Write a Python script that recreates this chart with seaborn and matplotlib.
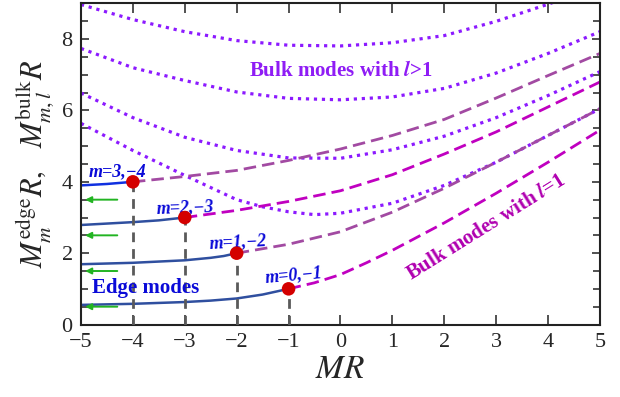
import numpy as np
import pandas as pd
import matplotlib
matplotlib.use("Agg")
import matplotlib.pyplot as plt
import seaborn as sns
from matplotlib.ticker import MultipleLocator

sns.set_theme(style="ticks")
plt.rcParams['font.family'] = ['Liberation Serif', 'DejaVu Serif']
plt.rcParams['mathtext.fontset'] = 'stix'

# ---------------- data ----------------
x_int = [-5, -4, -3, -2, -1, 0, 1, 2, 3, 4, 5]
bulk_hi_1 = [8.97, 8.55, 8.21, 7.96, 7.83, 7.81, 7.9, 8.1, 8.5, 8.98, 9.5]
bulk_hi_2 = [7.74, 7.2, 6.84, 6.52, 6.34, 6.3, 6.38, 6.62, 7.05, 7.6, 8.21]
bulk_hi_3 = [6.49, 5.8, 5.25, 4.88, 4.67, 4.66, 4.9, 5.28, 5.8, 6.42, 7.09]
bulk_hi_4_x = [-5, -4, -3, -2, -1.5, -1, -0.5, 0, 1, 2, 3, 4, 5]
bulk_hi_4 = [5.64, 4.88, 4.18, 3.5, 3.3, 3.16, 3.08, 3.12, 3.4, 3.9, 4.55, 5.3, 6.05]

bulk_l1_m0_x = [-1, -0.5, 0, 0.5, 1, 2, 3, 4, 5]
bulk_l1_m0 = [1.0, 1.17, 1.4, 1.73, 2.08, 2.85, 3.68, 4.55, 5.45]
bulk_l1_m1_x = [-2, -1, 0, 1, 2, 3, 4, 5]
bulk_l1_m1 = [2.0, 2.25, 2.6, 3.15, 3.82, 4.55, 5.3, 6.05]
bulk_l1_m2_x = [-3, -2, -1, 0, 1, 2, 3, 4, 5]
bulk_l1_m2 = [3.0, 3.2, 3.45, 3.75, 4.2, 4.78, 5.4, 6.1, 6.8]
bulk_l1_m3_x = [-4, -3, -2, -1, 0, 1, 2, 3, 4, 5]
bulk_l1_m3 = [4.0, 4.15, 4.32, 4.6, 4.92, 5.3, 5.75, 6.35, 6.98, 7.6]

edge_m0_x = [-5, -4, -3, -2.5, -2, -1.5, -1]
edge_m0 = [0.55, 0.58, 0.63, 0.67, 0.73, 0.84, 1.0]
edge_m1_x = [-5, -4, -3, -2.5, -2.25, -2]
edge_m1 = [1.69, 1.73, 1.8, 1.87, 1.92, 2.0]
edge_m2_x = [-5, -4, -3.5, -3]
edge_m2 = [2.79, 2.87, 2.92, 3.0]
edge_m3_x = [-5, -4.5, -4]
edge_m3 = [3.9, 3.94, 4.0]

dot_x = [-1, -2, -3, -4]
dot_y = [1, 2, 3, 4]
arrow_y = [0.5, 1.5, 2.5, 3.5]
m_labels = ["m=0,\u22121", "m=1,\u22122", "m=2,\u22123", "m=3,\u22124"]

x_ticks = [-5, -4, -3, -2, -1, 0, 1, 2, 3, 4, 5]
y_ticks = [0, 2, 4, 6, 8]

# ---------------- styles ----------------
c_dot = "#8c1aff"
c_mag = "#c000c0"
c_mut = "#a24aa2"
c_edge = "#2f4f9f"
c_edge3 = "#1030e0"
c_txt_blue = "#0a0ad8"

fig = plt.figure(figsize=(6.2, 3.97), dpi=100)
ax = fig.add_axes([0.1306, 0.1826, 0.9677 - 0.1306, 0.9912 - 0.1826])

dotted = (0, (1.0, 1.5))
dashed = (0, (4.5, 2.2))

for xs, ys in [(x_int, bulk_hi_1), (x_int, bulk_hi_2), (x_int, bulk_hi_3),
               (bulk_hi_4_x, bulk_hi_4)]:
    sns.lineplot(x=xs, y=ys, ax=ax, color=c_dot, lw=2.3, linestyle=dotted,
                 estimator=None, sort=False)

for xs, ys, c in [(bulk_l1_m0_x, bulk_l1_m0, c_mag), (bulk_l1_m1_x, bulk_l1_m1, c_mut),
                  (bulk_l1_m2_x, bulk_l1_m2, c_mag), (bulk_l1_m3_x, bulk_l1_m3, c_mut)]:
    sns.lineplot(x=xs, y=ys, ax=ax, color=c, lw=2.0, linestyle=dashed,
                 estimator=None, sort=False)

for xs, ys, c in [(edge_m0_x, edge_m0, c_edge), (edge_m1_x, edge_m1, c_edge),
                  (edge_m2_x, edge_m2, c_edge), (edge_m3_x, edge_m3, c_edge3)]:
    sns.lineplot(x=xs, y=ys, ax=ax, color=c, lw=1.8, estimator=None, sort=False)

ax.vlines(dot_x, 0, dot_y, colors="#5a5a5a", lw=2.0, linestyles=(0, (3.5, 2.5)), zorder=3)
sns.scatterplot(x=dot_x, y=dot_y, ax=ax, color="#d40000", s=95, edgecolor="none",
                zorder=5)

for yv in arrow_y:
    ax.annotate("", xy=(-4.92, yv), xytext=(-4.3, yv),
                arrowprops=dict(arrowstyle="-|>", color="#22b422", lw=1.4,
                                mutation_scale=9, shrinkA=0, shrinkB=0))

# labels
lab_pos = [(-0.9, 1.38, 5), (-1.98, 2.3, 3), (-2.99, 3.27, 2), (-4.3, 4.27, 0)]
for (lx, ly, rot), t in zip(lab_pos, m_labels):
    ax.text(lx, ly, t, color=c_txt_blue, fontsize=13, fontweight="bold",
            fontstyle="italic", ha="center", va="center", rotation=rot)

ax.text(-3.76, 1.02, "Edge modes", color=c_txt_blue, fontsize=15,
        fontweight="bold", ha="center", va="center")
ax.text(0.0, 7.1, r"Bulk modes with $\mathbfit{l}$>1", color="#8f1cf5", fontsize=15,
        fontweight="bold", ha="center", va="center")
ax.text(2.8, 2.72, r"Bulk modes with $\mathbfit{l}$=1", color="#b000b0", fontsize=15,
        fontweight="bold", ha="center", va="center", rotation=32,
        rotation_mode="anchor")

ax.set_xlim(-5, 5)
ax.set_ylim(0, 9)
ax.set_xticks(x_ticks)
ax.set_yticks(y_ticks)
ax.yaxis.set_minor_locator(MultipleLocator(0.5))
ax.tick_params(axis="both", which="both", direction="in", top=True, right=True,
               labelsize=16, color="#333333", width=1.2)
ax.tick_params(axis="x", which="major", length=7, pad=6)
ax.tick_params(axis="y", which="major", length=6, pad=6)
ax.tick_params(axis="y", which="minor", length=5)
for s in ax.spines.values():
    s.set_linewidth(1.5)
    s.set_color("#222222")

ax.set_xlabel(r"$MR$", fontsize=24, labelpad=2)
ax.set_ylabel(r"$M^{\rm edge}_{m}R,\;\;\; M^{\rm bulk}_{m,l}R$", fontsize=22, labelpad=4)

fig.savefig("out.png", dpi=100)
